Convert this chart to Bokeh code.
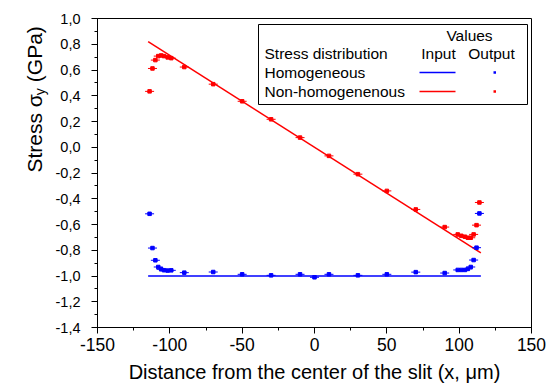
import math
from bokeh.plotting import figure
from bokeh.models import Range1d, FixedTicker, Label, BoxAnnotation
from bokeh.layouts import row
from bokeh.embed import file_html
from bokeh.resources import INLINE

# ---- data ----
x_input = [-115, 115]
homog_input = [-1.0, -1.0]
nonhomog_input = [0.82, -0.82]

x_output = [-114, -112, -110, -108, -106, -104, -101.5, -99, -90, -70, -50, -30, -10, 0,
            10, 30, 50, 70, 90, 99, 101.5, 104, 106, 108, 110, 112, 114]
homog_output = [-0.517, -0.783, -0.878, -0.93, -0.948, -0.955, -0.958, -0.956, -0.974, -0.969,
                -0.987, -0.995, -0.987, -1.01, -0.987, -0.995, -0.987, -0.97, -0.977, -0.953,
                -0.953, -0.953, -0.945, -0.93, -0.876, -0.78, -0.514]
x_output_red = [-114, -112, -110, -108, -106, -104, -101.5, -99, -90, -70, -50, -30, -10,
                10, 30, 50, 70, 90, 99, 101.5, 104, 106, 108, 110, 112, 114]
nonhomog_output = [0.434, 0.612, 0.677, 0.708, 0.713, 0.708, 0.698, 0.692, 0.623, 0.49, 0.357,
                   0.217, 0.075, -0.067, -0.209, -0.339, -0.483, -0.62, -0.677, -0.688, -0.695,
                   -0.703, -0.703, -0.677, -0.605, -0.429]

x_ticks = [-150, -100, -50, 0, 50, 100, 150]
x_minor = [-150, -125, -100, -75, -50, -25, 0, 25, 50, 75, 100, 125, 150]
y_ticks = [-1.4, -1.2, -1.0, -0.8, -0.6, -0.4, -0.2, 0.0, 0.2, 0.4, 0.6, 0.8, 1.0]
y_tick_labels = ["-1,4", "-1,2", "-1,0", "-0,8", "-0,6", "-0,4", "-0,2", "0,0", "0,2", "0,4", "0,6", "0,8", "1,0"]
y_minor = [round(-1.4 + 0.1 * i, 1) for i in range(25)]

BLUE = "#0000FF"
RED = "#FF0000"
FONT = "Liberation Sans"

W, H = 554, 387
LW = 52                     # width of the strip holding the y-axis title
FL, FB = 96, 327            # frame left / bottom in page pixels

# ---- strip with the y-axis title (text with subscript) ----
lab = figure(width=LW, height=H, output_backend="svg", toolbar_location=None,
             x_range=Range1d(0, 1), y_range=Range1d(0, 1),
             min_border=0, min_border_left=0, min_border_right=0, min_border_top=0, min_border_bottom=0)
lab.axis.visible = False
lab.grid.visible = False
lab.outline_line_color = None
lab.background_fill_color = "white"
lab.border_fill_color = "white"

def lsy(Y):
    return H - Y

ylab_x = 34
y0 = 232
s1 = 21 * (2834 + 278 + 570) / 1000.0
lab.add_layout(Label(x=ylab_x, y=lsy(y0), x_units="screen", y_units="screen", text="Stress \u03c3",
                     angle=math.pi / 2, text_align="left", text_baseline="middle",
                     text_font=FONT, text_font_size="21px", text_color="black"))
lab.add_layout(Label(x=ylab_x + 5, y=lsy(y0) + s1, x_units="screen", y_units="screen", text="y",
                     angle=math.pi / 2, text_align="left", text_baseline="middle",
                     text_font=FONT, text_font_size="14px", text_color="black"))
lab.add_layout(Label(x=ylab_x, y=lsy(y0) + s1 + 13, x_units="screen", y_units="screen", text="(GPa)",
                     angle=math.pi / 2, text_align="left", text_baseline="middle",
                     text_font=FONT, text_font_size="21px", text_color="black"))

# ---- main chart ----
p = figure(width=W - LW, height=H, output_backend="svg", toolbar_location=None,
           x_range=Range1d(-150, 150), y_range=Range1d(-1.4, 1.0),
           min_border_left=FL - LW, min_border_right=23, min_border_top=18, min_border_bottom=60)
p.grid.visible = False
p.outline_line_color = "black"
p.outline_line_width = 1
p.background_fill_color = "white"
p.border_fill_color = "white"

p.xaxis.ticker = FixedTicker(ticks=x_ticks, minor_ticks=x_minor)
p.yaxis.ticker = FixedTicker(ticks=y_ticks, minor_ticks=y_minor)
p.yaxis.major_label_overrides = {t: l for t, l in zip(y_ticks, y_tick_labels)}
p.xaxis.major_label_overrides = {t: str(t) for t in x_ticks}

for ax in (p.xaxis[0], p.yaxis[0]):
    ax.axis_line_color = "black"
    ax.axis_line_width = 1
    ax.major_tick_line_color = "black"
    ax.minor_tick_line_color = "black"
    ax.major_tick_in = 0
    ax.major_tick_out = 6
    ax.minor_tick_in = 0
    ax.minor_tick_out = 3
    ax.major_label_text_font = FONT
    ax.major_label_text_color = "black"
    ax.axis_label_text_font = FONT
    ax.axis_label_text_font_style = "normal"
    ax.axis_label_text_color = "black"

p.xaxis.major_label_text_font_size = "17.5px"
p.xaxis.major_label_standoff = 4
p.xaxis.axis_label = "Distance from the center of the slit (x, \u03bcm)"
p.xaxis.axis_label_text_font_size = "20px"
p.xaxis.axis_label_standoff = 7

p.yaxis.major_label_text_font_size = "14.5px"
p.yaxis.major_label_standoff = 11

# input lines
p.line(x_input, homog_input, line_color=BLUE, line_width=1.5)
p.line(x_input, nonhomog_input, line_color=RED, line_width=1.5)

# output points with small horizontal error bars
p.scatter(x_output, homog_output, marker="dash", size=9, line_color=BLUE, line_width=1)
p.scatter(x_output, homog_output, marker="square", size=3.5, line_color=BLUE, fill_color=BLUE)
p.scatter(x_output_red, nonhomog_output, marker="dash", size=9, line_color=RED, line_width=1)
p.scatter(x_output_red, nonhomog_output, marker="square", size=3.5, line_color=RED, fill_color=RED)

def sx(X):
    return X - FL

def sy(Y):
    return FB - Y

# legend box
p.add_layout(BoxAnnotation(left=sx(257), right=sx(526), top=sy(24), bottom=sy(104),
                           left_units="screen", right_units="screen", top_units="screen", bottom_units="screen",
                           fill_color="white", fill_alpha=1, line_color="black", line_width=1, line_alpha=1))

def leg_text(txt, X, Y, align):
    p.add_layout(Label(x=sx(X), y=sy(Y), x_units="screen", y_units="screen", text=txt,
                       text_align=align, text_baseline="middle",
                       text_font=FONT, text_font_size="15.5px", text_color="black"))

leg_text("Values", 468, 35, "center")
leg_text("Stress distribution", 263, 53, "left")
leg_text("Input", 437, 53, "center")
leg_text("Output", 490, 53, "center")
leg_text("Homogeneous", 263, 72, "left")
leg_text("Non-homogenenous", 263, 91, "left")

for Y, c in ((72, BLUE), (91, RED)):
    p.add_layout(BoxAnnotation(left=sx(418), right=sx(454), top=sy(Y - 0.75), bottom=sy(Y + 0.75),
                               left_units="screen", right_units="screen", top_units="screen", bottom_units="screen",
                               fill_color=c, fill_alpha=1, line_alpha=0))
    p.add_layout(BoxAnnotation(left=sx(492), right=sx(494.5), top=sy(Y - 1.25), bottom=sy(Y + 1.25),
                               left_units="screen", right_units="screen", top_units="screen", bottom_units="screen",
                               fill_color=c, fill_alpha=1, line_alpha=0))

layout = row(lab, p, spacing=0)
open("out.html", "w").write(file_html(layout, INLINE))
